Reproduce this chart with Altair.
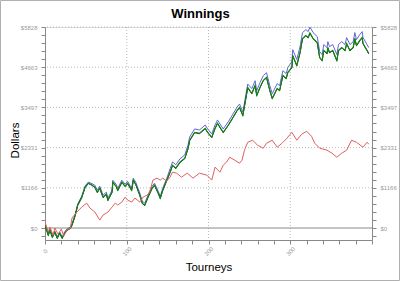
import altair as alt
import pandas as pd

# ---- data ----
tourneys = [0, 4, 6, 9, 12, 15, 18, 21, 24, 27, 31, 33, 37, 40, 45, 49, 53, 56, 61, 64,
            67, 71, 75, 77, 82, 83, 87, 89, 94, 98, 101, 106, 108, 111, 116, 119, 122, 126, 131, 134,
            138, 141, 144, 149, 153, 156, 160, 165, 171, 175, 177, 183, 189, 196, 199, 204, 208, 211, 218, 224,
            230, 235, 238, 242, 248, 253, 257, 259, 263, 267, 271, 275, 278, 284, 287, 291, 295, 297, 302, 303,
            308, 312, 315, 319, 322, 324, 328, 333, 336, 339, 341, 345, 346, 348, 352, 357, 359, 363, 367, 369,
            373, 377, 379, 381, 385, 388, 389, 394, 396]
green = [87, -203, -58, -260, -116, -289, -145, -289, -145, -58, 0, 87, 376, 665, 897, 1186, 1302, 1273, 1186, 1041,
         1157, 897, 984, 810, 1041, 1331, 1215, 1099, 1331, 1215, 1302, 1099, 1389, 1273, 955, 723, 665, 897, 1157, 1244,
         1041, 868, 1099, 1389, 1620, 1823, 1736, 1909, 2025, 2314, 2546, 2777, 2748, 2893, 2777, 2633, 2893, 3038, 2777, 2980,
         3211, 3414, 3501, 3269, 4079, 3906, 4137, 3848, 4079, 4282, 4368, 3992, 3761, 4050, 3992, 4426, 4340, 4513, 4658, 5005,
         4716, 5092, 5497, 5583, 5526, 5660, 5497, 5381, 4947, 4860, 5150, 5063, 5236, 5092, 5150, 4860, 5150, 5236, 5150, 5352,
         5150, 5236, 5497, 5294, 5439, 5526, 5352, 5150, 5063]
black = [75, -215, -70, -272, -128, -301, -157, -301, -157, -70, -12, 75, 364, 653, 885, 1174, 1290, 1261, 1174, 1029,
         1145, 885, 972, 798, 1029, 1319, 1203, 1087, 1319, 1203, 1290, 1087, 1377, 1261, 943, 711, 653, 885, 1145, 1232,
         1029, 856, 1087, 1377, 1608, 1811, 1724, 1897, 2013, 2302, 2534, 2765, 2736, 2881, 2765, 2621, 2881, 3026, 2765, 2968,
         3199, 3402, 3489, 3257, 4067, 3894, 4125, 3836, 4067, 4270, 4356, 3980, 3749, 4038, 3980, 4414, 4328, 4501, 4646, 4993,
         4704, 5080, 5485, 5571, 5514, 5648, 5485, 5369, 4935, 4848, 5138, 5051, 5224, 5080, 5138, 4848, 5138, 5224, 5138, 5340,
         5138, 5224, 5485, 5282, 5427, 5514, 5340, 5138, 5051]
blue = [117, -173, -28, -230, -86, -259, -115, -259, -115, -28, 30, 117, 406, 695, 927, 1216, 1332, 1303, 1241, 1096,
        1212, 952, 1039, 865, 1096, 1386, 1270, 1154, 1386, 1270, 1357, 1154, 1444, 1328, 1010, 778, 720, 952, 1212, 1299,
        1096, 923, 1154, 1444, 1715, 1918, 1831, 2004, 2120, 2409, 2641, 2872, 2843, 2988, 2872, 2728, 2988, 3133, 2872, 3075,
        3306, 3509, 3596, 3364, 4174, 4041, 4272, 3983, 4214, 4417, 4503, 4127, 3896, 4185, 4127, 4561, 4475, 4648, 4826, 5173,
        4884, 5260, 5665, 5751, 5694, 5828, 5665, 5549, 5115, 5028, 5318, 5231, 5404, 5260, 5318, 5028, 5318, 5404, 5318, 5520,
        5318, 5404, 5665, 5462, 5607, 5694, 5520, 5318, 5231]

red_tourneys = [0, 4, 6, 10, 12, 16, 20, 23, 27, 31, 33, 39, 45, 51, 55, 61, 67, 71, 77, 82,
                86, 89, 94, 98, 101, 106, 110, 116, 120, 125, 128, 132, 137, 141, 144, 149, 153, 156, 161, 167,
                174, 181, 189, 198, 204, 208, 214, 218, 222, 226, 232, 238, 241, 244, 248, 254, 260, 267, 271, 278,
                284, 290, 296, 302, 308, 314, 320, 326, 330, 336, 345, 351, 357, 363, 369, 375, 381, 389, 394, 396]
red = [174, -116, 29, -203, 0, -174, -29, -231, -58, 0, 289, 463, 608, 723, 579, 463, 231, 376, 463, 608,
       723, 665, 752, 897, 810, 752, 868, 752, 897, 955, 1041, 1389, 1447, 1389, 1447, 1360, 1475, 1620, 1591, 1475,
       1591, 1447, 1591, 1533, 1389, 1765, 1620, 1823, 1909, 2054, 1967, 1880, 1967, 2257, 2488, 2546, 2401, 2314, 2459, 2546,
       2343, 2459, 2604, 2777, 2546, 2719, 2806, 2662, 2459, 2314, 2257, 2170, 2054, 2170, 2257, 2546, 2488, 2343, 2488, 2430]

y_major = [0, 1165.6, 2331.2, 3496.8, 4662.4, 5828]
y_labels = ["$0", "$1166", "$2331", "$3497", "$4663", "$5828"]
x_major = [100, 200, 300]

# ---- layout ----
W, H = 327, 213
Y_DOM = [-347, 5828]
X_DOM = [0, 400]
LABEL_COLOR = "#9a9a9a"
FONT = "Liberation Sans"

main = pd.DataFrame({"t": tourneys, "green": green, "black": black, "blue": blue})
red_df = pd.DataFrame({"t": red_tourneys, "red": red})

xs = alt.Scale(domain=X_DOM, nice=False, zero=False)
ys = alt.Scale(domain=Y_DOM, nice=False, zero=False)

minor_step = 1165.6 / 5
y_ticks = [round(-minor_step + i * minor_step, 2) for i in range(27)]
x_ticks = list(range(0, 401, 20))

expr = ""
for v, lab in zip(y_major, y_labels):
    expr += f"abs(datum.value - {v}) < 1 ? '{lab}' : "
expr += "''"

x_axis = alt.Axis(values=x_ticks, title="Tourneys",
                  labelExpr="datum.value % 100 == 0 && datum.value < 400 ? '' + datum.value : ''",
                  labelAngle=-45, labelAlign="center", labelBaseline="middle", labelPadding=7,
                  labelFontSize=6, labelFont=FONT, labelColor=LABEL_COLOR, tickSize=4, tickColor="#888",
                  domainColor="#888", grid=False, titleFontSize=11.5, titleFontWeight="normal",
                  titleColor="black", titleFont=FONT, titleX=W / 2, titleY=27,
                  titleBaseline="middle", titleAlign="center")
y_left = alt.Axis(values=y_ticks, labelExpr=expr, title="Dollars", orient="left",
                  labelFontSize=6, labelFont=FONT, labelColor=LABEL_COLOR, tickSize=4, tickColor="#888",
                  domainColor="#888", grid=False, titleFontSize=11.5, titleFontWeight="normal",
                  titleColor="black", titleFont=FONT, labelPadding=4,
                  titleX=-30, titleY=113, titleAngle=-90, titleBaseline="middle", titleAlign="center")
y_right = alt.Axis(values=y_ticks, labelExpr=expr, title=None, orient="right",
                   labelFontSize=6, labelFont=FONT, labelColor=LABEL_COLOR, tickSize=4, tickColor="#888",
                   domainColor="#888", grid=False, labelPadding=4)

X = alt.X("t:Q", scale=xs, axis=x_axis)

def line(df, col, color, width=1.0):
    return alt.Chart(df).mark_line(color=color, strokeWidth=width, clip=True).encode(
        x=X,
        y=alt.Y(f"{col}:Q", scale=ys, axis=y_left),
    )

blue_l = line(main, "blue", "#6464dc")
black_l = line(main, "black", "#111111", 1.0)
green_l = line(main, "green", "#0f8a0f", 1.1)
red_l = line(red_df, "red", "#e06060")

hgrid = alt.Chart(pd.DataFrame({"v": y_major[1:]})).mark_rule(
    color="#a8a8a8", strokeWidth=0.8, strokeDash=[1, 2]).encode(
    y=alt.Y("v:Q", scale=ys, axis=y_right))
zero = alt.Chart(pd.DataFrame({"v": [0]})).mark_rule(color="#8a8a8a", strokeWidth=1).encode(
    y=alt.Y("v:Q", scale=ys, axis=y_right))
vgrid = alt.Chart(pd.DataFrame({"t": x_major})).mark_rule(
    color="#a8a8a8", strokeWidth=0.8, strokeDash=[1, 2]).encode(x=X)

frame = alt.Chart(pd.DataFrame({"a": [0]})).mark_rect(
    fill=None, stroke="#b0b0b0", strokeWidth=1).encode(
    x=alt.value(-44.5), x2=alt.value(W + 27.5), y=alt.value(-26.5), y2=alt.value(H + 40.5))

grid_layer = alt.layer(vgrid, hgrid, zero)
lines = alt.layer(blue_l, black_l, green_l, red_l)

chart = alt.layer(grid_layer, lines, frame).resolve_scale(y="independent").properties(
    width=W, height=H,
    title=alt.TitleParams("Winnings", fontSize=13, fontWeight="bold", font=FONT,
                          anchor="middle", dx=-8, offset=-21, color="black"),
    autosize=alt.AutoSizeParams(type="none"),
    padding={"left": 45, "top": 27, "right": 28, "bottom": 41},
).configure_view(fill="#d3d3d3", stroke=None).configure(background="white")

chart.save("out.html", embed_options={"renderer": "svg", "actions": False})
